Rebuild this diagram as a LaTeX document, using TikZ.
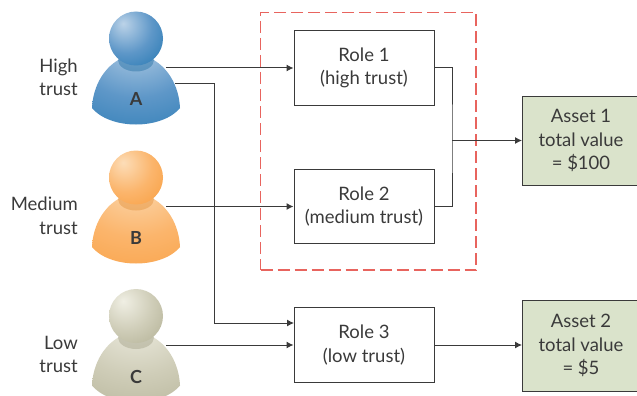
\documentclass[tikz,border=0pt]{standalone}
\usepackage{fontspec}
\setmainfont{Lato}
\usepackage{tikz}
\usepackage{xcolor}
\usetikzlibrary{
    arrows.meta,
    calc,
    positioning
}
\definecolor{lighta}{HTML}{BCD3E8}
\definecolor{mida}{HTML}{5E97C8}
\definecolor{deepa}{HTML}{1A72AE}
\definecolor{lightb}{HTML}{FCDDB8}
\definecolor{midb}{HTML}{FBB56C}
\definecolor{deepb}{HTML}{F89A38}
\definecolor{lightc}{HTML}{F0EFE4}
\definecolor{midc}{HTML}{CFCDB8}
\definecolor{deepc}{HTML}{ADAB8E}
\definecolor{assetgreen}{HTML}{DAE3CB}
\definecolor{trustred}{HTML}{E8645E}
\definecolor{inkgrey}{HTML}{3A3A3A}
\newcommand{\trustshades}[1]{%
    \pgfdeclareradialshading{head#1}{\pgfpoint{-12bp}{14bp}}{%
        color(0bp)=(light#1); color(24bp)=(mid#1); color(50bp)=(deep#1); color(100bp)=(deep#1)}%
    \pgfdeclareradialshading{body#1}{\pgfpoint{0bp}{40bp}}{%
        color(0bp)=(light#1); color(32bp)=(mid#1); color(70bp)=(deep#1); color(100bp)=(deep#1)}%
}
\trustshades{a}
\trustshades{b}
\trustshades{c}
\newcommand{\trustperson}[3]{%
    \begin{scope}[shift={(0,#1)}]
        \shade[shading=body#2]
        (92,108) .. controls (93,85) and (105,66) .. (122,58)
        -- (150,58) .. controls (167,66) and (179,85) .. (180,108)
        .. controls (172,118) and (155,124.5) .. (136,124.5)
        .. controls (117,124.5) and (100,118) .. (92,108) -- cycle;
        \fill[deep#2!90!black, opacity=0.4] (136,60) ellipse (18 and 11.5);
        \shade[shading=head#2] (136,38.5) circle (27);
        \node[person letter] (#2) at (136,99) {#3};
    \end{scope}
}
\begin{document}
\begin{tikzpicture}[x=1pt, y=-1pt,
    label/.style={font=\fontsize{18.5}{23.5}\selectfont, text=inkgrey, align=center},
    person letter/.style={font=\fontsize{18}{18}\selectfont\bfseries, text=inkgrey, inner sep=0pt},
    side/.style={label, align=right, anchor=east, inner sep=0pt},
    rolebox/.style={label, draw=inkgrey, line width=1pt, minimum width=140pt, minimum height=74.5pt, inner sep=0pt},
    assetbox/.style={label, draw=inkgrey, fill=assetgreen, line width=1pt, minimum width=117pt, inner sep=0pt},
    link/.style={draw=inkgrey, line width=1pt},
    arrow/.style={link, -{Latex[length=7pt,width=7pt]}}]
    \useasboundingbox (0,0) rectangle (637,396);
    \clip (0,0) rectangle (637,396);

    \node[draw=trustred, line width=1.1pt, dash pattern=on 12pt off 5pt, minimum width=215.5pt, minimum height=257.5pt, inner sep=0pt] (zone) at (368.25,141.25) {};

    \trustperson{0}{a}{A}
    \trustperson{139}{b}{B}
    \trustperson{277.5}{c}{C}

    \node[side] (high) at (78,77.5) {High\\trust};
    \node[side] (medium) at (78,216) {Medium\\trust};
    \node[side] (low) at (78,354.5) {Low\\trust};

    \node[rolebox] (role1) at (364,68) {Role 1\\(high trust)};
    \node[rolebox] (role2) at (364,206.5) {Role 2\\(medium trust)};
    \node[rolebox] (role3) at (364,345) {Role 3\\(low trust)};
    \node[assetbox, minimum height=89pt] (asset1) at (581,140.5) {Asset 1\\total value\\= \$100};
    \node[assetbox, minimum height=91pt] (asset2) at (581,345.5) {Asset 2\\total value\\= \$5};

    \coordinate (aupper) at (166,68);
    \coordinate (alower) at (175,83);
    \coordinate (bout) at (166,206.5);
    \coordinate (cout) at (166,345);
    \coordinate (turn) at (214,323);
    \coordinate (entry) at (294,323);
    \coordinate (join) at (452,140.5);

    \draw[arrow] (aupper) -- (role1.west);
    \draw[arrow] (alower) -| (turn) -- (entry);
    \draw[arrow] (bout) -- (role2.west);
    \draw[arrow] (cout) -- (role3.west);
    \draw[link] (role1.east) -| (join) |- (role2.east);
    \draw[arrow] (join) -- (asset1.west);
    \draw[arrow] (role3.east) -- (asset2.west |- role3.east);
\end{tikzpicture}
\end{document}
